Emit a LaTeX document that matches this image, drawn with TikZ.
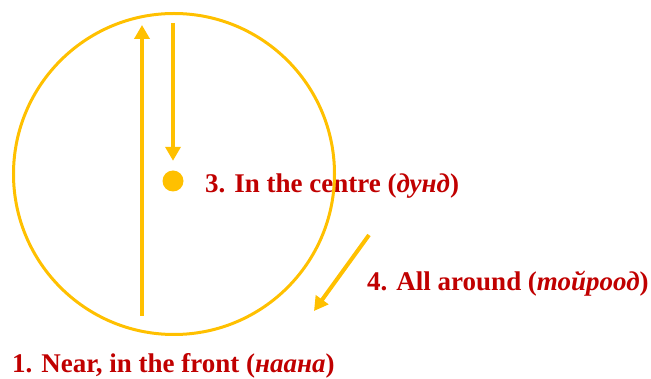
\documentclass[tikz,border=0pt]{standalone}
\usepackage{fontspec}
\setmainfont{Liberation Serif}
\usetikzlibrary{arrows.meta}
\definecolor{gold}{HTML}{FFC000}
\definecolor{darkred}{HTML}{C00000}
\tikzset{every node/.append style={inner sep=0pt}}

\begin{document}
\begin{tikzpicture}[x=1pt, y=-1pt,
    lbl/.style={anchor=base west, text=darkred, font=\fontsize{27}{30}\selectfont\bfseries},
    ring/.style={circle, draw=gold, line width=3pt},
    a/.style={-{Triangle[length=14pt, width=15pt]}, line width=4pt, gold}
]
\useasboundingbox (0,0) rectangle (651,379);
\node[lbl] (centre) at (205,193) {3. In the centre (\textit{дунд})};
\node[lbl] (around) at (367,291) {4. All around (\textit{тойроод})};
\node[lbl] (near) at (12,373) {1. Near, in the front (\textit{наана})};
\node[ring, minimum size=321pt] (ring) at (174,174) {};
\node[circle, fill=gold, minimum size=21pt] (dot) at (173,181) {};
% arrows
\coordinate (nearfoot) at (142,316);
\coordinate (neartip) at (142,25);
\coordinate (centretop) at (173,23);
\coordinate (roundtail) at (369,235);
\coordinate (roundtip) at (314,311);
\draw[a] (nearfoot) -- (neartip);
\draw[a, shorten >=9.5pt] (centretop) -- (dot.north);
\draw[a] (roundtail) -- (roundtip);
\end{tikzpicture}
\end{document}
